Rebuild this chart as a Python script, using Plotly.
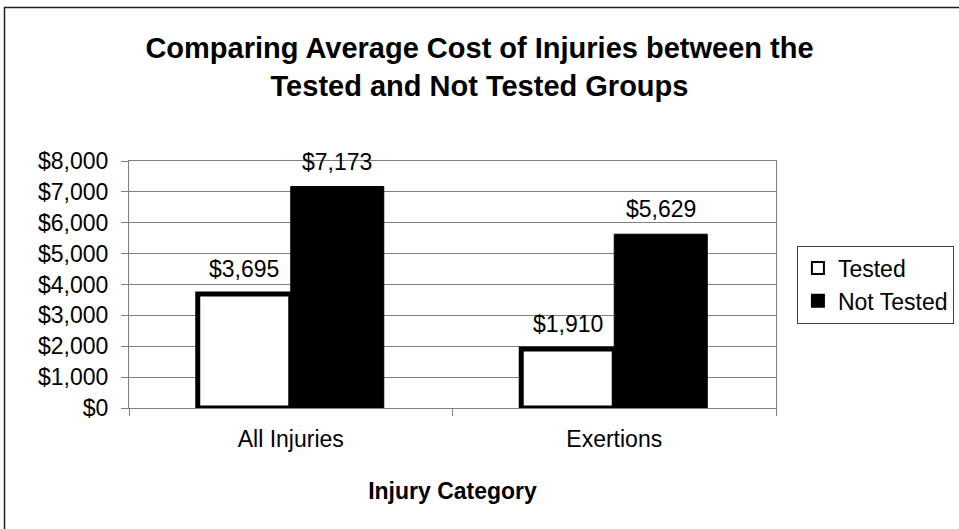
import plotly.graph_objects as go

categories = ["All Injuries", "Exertions"]
tested = [3695, 1910]
not_tested = [7173, 5629]
tick_vals = [0, 1000, 2000, 3000, 4000, 5000, 6000, 7000, 8000]
tick_text = ["$0", "$1,000", "$2,000", "$3,000", "$4,000", "$5,000", "$6,000", "$7,000", "$8,000"]

FONT = "Liberation Sans, Arial, sans-serif"
LBL = 23

fig = go.Figure()
fig.add_trace(go.Bar(
    name="Tested", x=categories, y=tested,
    marker=dict(color="white", line=dict(color="black", width=5)),
))
fig.add_trace(go.Bar(
    name="Not Tested", x=categories, y=not_tested,
    marker=dict(color="black", line=dict(color="black", width=1)),
))

# data labels
for vals, shift in ((tested, -46.5), (not_tested, 46.5)):
    for c, v in zip(categories, vals):
        fig.add_annotation(x=c, y=v, text=f"${v:,}", showarrow=False,
                           xshift=shift, yshift=25, yanchor="middle",
                           font=dict(size=LBL, family=FONT, color="black"))

fig.update_layout(
    width=959, height=529, autosize=False,
    margin=dict(l=129, r=183, t=161, b=121),
    paper_bgcolor="white", plot_bgcolor="white",
    font=dict(family=FONT, color="black", size=LBL),
    barmode="group", bargap=0.425, bargroupgap=0,
    title=dict(text="<b>Comparing Average Cost of Injuries between the<br>Tested and Not Tested Groups</b>",
               xref="container", x=0.5, xanchor="center", yref="container", y=0.89, yanchor="top",
               font=dict(size=29, family=FONT, color="black")),
    legend=dict(xref="container", x=0.831, y=0.5, xanchor="left", yanchor="middle",
                bordercolor="#404040", borderwidth=1, bgcolor="white",
                font=dict(size=23, family=FONT, color="black"),
                itemsizing="constant", tracegroupgap=0, itemwidth=30),
    showlegend=True,
)
fig.update_xaxes(
    showline=True, linecolor="#808080", linewidth=1, mirror=True,
    ticks="outside", tickson="boundaries", ticklen=7, tickcolor="#808080",
    ticklabelstandoff=10,
    tickfont=dict(size=LBL, family=FONT), showgrid=False,
    title=dict(text="<b>Injury Category</b>", font=dict(size=LBL, family=FONT), standoff=32),
)
fig.update_yaxes(
    range=[0, 8000], tickvals=tick_vals, ticktext=tick_text,
    showline=True, linecolor="#808080", linewidth=1, mirror=True,
    ticks="outside", ticklen=7, tickcolor="#808080", ticklabelstandoff=8,
    showgrid=True, gridcolor="#808080", gridwidth=1,
    tickfont=dict(size=LBL, family=FONT), zeroline=False,
)
# outer chart frame
fig.add_shape(type="rect", xref="paper", yref="paper",
              x0=-0.1924, x1=1.35, y0=-0.55, y1=1.621,
              line=dict(color="#202020", width=1.5), fillcolor="rgba(0,0,0,0)", layer="below")

fig.write_html("out.html",
               config={"displayModeBar": False, "responsive": False},
               post_script="document.documentElement.style.overflow='hidden';"
                           "document.body.style.overflow='hidden';"
                           "document.body.style.margin='0';")
